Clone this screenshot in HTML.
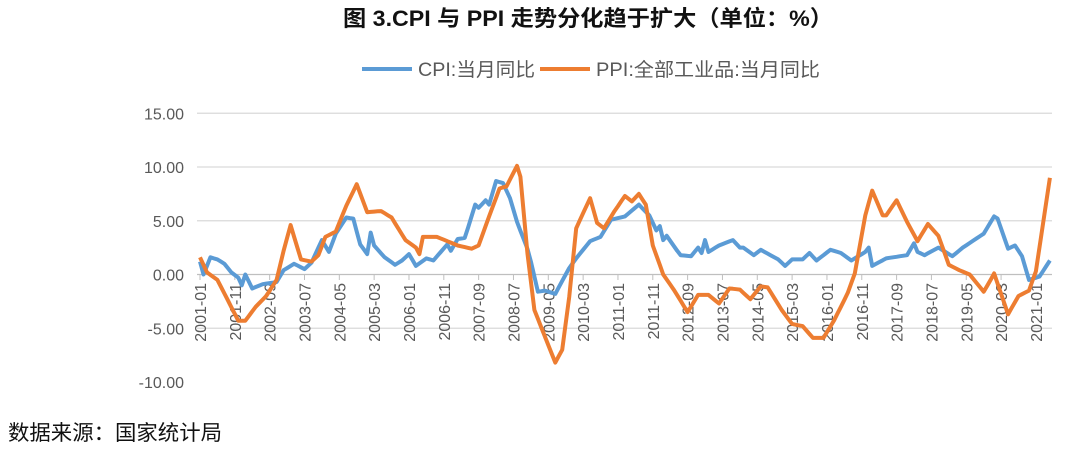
<!DOCTYPE html>
<html><head><meta charset="utf-8"><style>
body{margin:0;background:#fff;width:1080px;height:450px;overflow:hidden;font-family:"Liberation Sans","Noto Sans CJK SC",sans-serif}
</style></head><body>
<svg id="s" width="1080" height="450" xmlns="http://www.w3.org/2000/svg" style="position:absolute;left:0;top:0">
<text x="588" y="26" text-anchor="middle" font-size="22" font-weight="bold" fill="#111" font-family="Liberation Sans,Noto Sans CJK SC,sans-serif" textLength="490" lengthAdjust="spacingAndGlyphs">图 3.CPI 与 PPI 走势分化趋于扩大（单位：%）</text>
<line x1="362" y1="69" x2="412" y2="69" stroke="#5B9BD5" stroke-width="4"/>
<text x="418" y="76" font-size="19" fill="#595959" font-family="Liberation Sans,Noto Sans CJK SC,sans-serif" textLength="117" lengthAdjust="spacingAndGlyphs">CPI:当月同比</text>
<line x1="540" y1="69" x2="590" y2="69" stroke="#ED7D31" stroke-width="4"/>
<text x="596" y="76" font-size="19" fill="#595959" font-family="Liberation Sans,Noto Sans CJK SC,sans-serif" textLength="224" lengthAdjust="spacingAndGlyphs">PPI:全部工业品:当月同比</text>
<text x="8" y="440" font-size="21" fill="#111" font-family="Liberation Sans,Noto Sans CJK SC,sans-serif" textLength="214" lengthAdjust="spacingAndGlyphs">数据来源：国家统计局</text>
</svg>
<script>
var NS="http://www.w3.org/2000/svg",s=document.getElementById('s');
function el(t,a,txt){var e=document.createElementNS(NS,t);for(var k in a)e.setAttribute(k,a[k]);if(txt)e.textContent=txt;s.appendChild(e);return e;}
function Y(v){return 274.5-v*10.75;}
function X(m){return 200+3.483*m;}
[15,10,5,0,-5,-10].forEach(function(v){
 if(v>-10)el('line',{x1:197,x2:1052,y1:Y(v),y2:Y(v),stroke:v==0?'#bfbfbf':'#d9d9d9','stroke-width':1.3});
 el('text',{x:184,y:Y(v)+6,'text-anchor':'end','font-size':16,fill:'#595959'},v.toFixed(2));
});
for(var m=0;m<=240;m+=10){
 var yr=2001+Math.floor(m/12),mo=m%12+1,lab=yr+'-'+(mo<10?'0':'')+mo,x=X(m);
 el('line',{x1:x,x2:x,y1:274.5,y2:280,stroke:'#bfbfbf'});
 el('text',{x:0,y:0,transform:'translate('+(x+6)+',283) rotate(-90)','text-anchor':'end','font-size':16,fill:'#595959'},lab);
}
function mi(s){var p=s.split('-');return (p[0]-2001)*12+(p[1]-1);}
function build(kp,col){
 var pts=[],ks=kp.map(function(a){return [mi(a[0]),a[1]];});
 for(var i=0;i<ks.length-1;i++){var a=ks[i],b=ks[i+1];for(var m=a[0];m<b[0];m++){var v=a[1]+(b[1]-a[1])*(m-a[0])/(b[0]-a[0]);pts.push(X(m).toFixed(1)+','+Y(v).toFixed(1));}}
 var l=ks[ks.length-1];pts.push(X(l[0]).toFixed(1)+','+Y(l[1]).toFixed(1));
 el('polyline',{points:pts.join(' '),fill:'none',stroke:col,'stroke-width':4,'stroke-linejoin':'round'});
}
var cpi=[["2001-01",1.2],["2001-02",0],["2001-04",1.6],["2001-06",1.4],["2001-08",1.0],["2001-10",0.2],["2001-12",-0.3],["2002-01",-1.0],["2002-02",0],["2002-04",-1.3],["2002-07",-0.9],["2002-11",-0.7],["2003-01",0.4],["2003-04",1.0],["2003-07",0.5],["2003-09",1.1],["2003-12",3.2],["2004-02",2.1],["2004-04",3.8],["2004-07",5.3],["2004-09",5.2],["2004-11",2.8],["2005-01",1.9],["2005-02",3.9],["2005-03",2.7],["2005-06",1.6],["2005-09",0.9],["2005-11",1.3],["2006-01",1.9],["2006-03",0.8],["2006-06",1.5],["2006-08",1.3],["2006-12",2.8],["2007-01",2.2],["2007-03",3.3],["2007-05",3.4],["2007-06",4.4],["2007-08",6.5],["2007-09",6.2],["2007-11",6.9],["2007-12",6.5],["2008-02",8.7],["2008-04",8.5],["2008-06",7.1],["2008-08",4.9],["2008-11",2.4],["2008-12",1.2],["2009-02",-1.6],["2009-04",-1.5],["2009-07",-1.8],["2009-11",0.6],["2010-01",1.5],["2010-05",3.1],["2010-08",3.5],["2010-11",5.1],["2011-03",5.4],["2011-07",6.5],["2011-10",5.5],["2011-12",4.1],["2012-01",4.5],["2012-02",3.2],["2012-03",3.6],["2012-06",2.2],["2012-07",1.8],["2012-10",1.7],["2012-12",2.5],["2013-01",2.0],["2013-02",3.2],["2013-03",2.1],["2013-06",2.7],["2013-10",3.2],["2013-12",2.5],["2014-01",2.5],["2014-04",1.8],["2014-06",2.3],["2014-11",1.4],["2015-01",0.8],["2015-03",1.4],["2015-06",1.4],["2015-08",2.0],["2015-10",1.3],["2016-02",2.3],["2016-05",2.0],["2016-08",1.3],["2016-12",2.1],["2017-01",2.5],["2017-02",0.8],["2017-06",1.5],["2017-12",1.8],["2018-02",2.9],["2018-03",2.1],["2018-05",1.8],["2018-09",2.5],["2019-01",1.7],["2019-04",2.5],["2019-10",3.8],["2020-01",5.4],["2020-02",5.2],["2020-05",2.4],["2020-07",2.7],["2020-09",1.7],["2020-11",-0.5],["2021-01",-0.3],["2021-02",-0.2],["2021-05",1.3]];
var ppi=[["2001-01",1.6],["2001-03",0.2],["2001-06",-0.5],["2001-12",-4.3],["2002-02",-4.3],["2002-05",-3.0],["2002-08",-2.0],["2002-11",-0.5],["2003-01",2.2],["2003-03",4.6],["2003-06",1.4],["2003-09",1.2],["2003-11",1.8],["2004-01",3.5],["2004-04",4.0],["2004-07",6.4],["2004-10",8.4],["2005-01",5.8],["2005-05",5.9],["2005-08",5.3],["2005-12",3.2],["2006-03",2.5],["2006-04",1.9],["2006-05",3.5],["2006-09",3.5],["2006-12",3.1],["2007-03",2.7],["2007-07",2.4],["2007-09",2.7],["2007-12",5.4],["2008-03",8.0],["2008-05",8.2],["2008-08",10.1],["2008-09",9.1],["2008-11",2.0],["2009-01",-3.3],["2009-07",-8.2],["2009-09",-7.0],["2009-11",-2.1],["2010-01",4.3],["2010-05",7.1],["2010-07",4.8],["2010-09",4.3],["2010-12",5.9],["2011-03",7.3],["2011-05",6.8],["2011-07",7.5],["2011-09",6.5],["2011-11",2.7],["2012-02",0.0],["2012-05",-1.4],["2012-09",-3.5],["2012-12",-1.9],["2013-03",-1.9],["2013-06",-2.7],["2013-09",-1.3],["2013-12",-1.4],["2014-03",-2.3],["2014-06",-1.1],["2014-08",-1.2],["2014-12",-3.3],["2015-03",-4.6],["2015-06",-4.8],["2015-09",-5.9],["2015-12",-5.9],["2016-03",-4.3],["2016-07",-1.7],["2016-09",0.1],["2016-12",5.5],["2017-02",7.8],["2017-05",5.5],["2017-06",5.5],["2017-09",6.9],["2017-12",4.9],["2018-03",3.1],["2018-06",4.7],["2018-09",3.6],["2018-12",0.9],["2019-03",0.4],["2019-06",0.0],["2019-10",-1.6],["2019-12",-0.5],["2020-01",0.1],["2020-05",-3.7],["2020-08",-2.0],["2020-11",-1.5],["2021-01",0.3],["2021-05",9.0]];
build(cpi,'#5B9BD5');build(ppi,'#ED7D31');
</script>
</body></html>
